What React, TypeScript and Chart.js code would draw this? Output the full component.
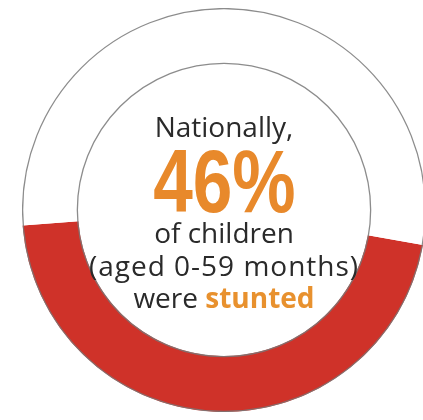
import React, { useEffect, useRef } from "react";
import { Chart, registerables } from "chart.js";

Chart.register(...registerables);

const categories = ["Stunted", "Not stunted"];
const values = [46, 54];
const colors = ["#CF3229", "#FFFFFF"];

const ringOutline = {
  id: "ringOutline",
  afterDatasetsDraw(chart: any) {
    const meta = chart.getDatasetMeta(0);
    const arc = meta.data[0];
    if (!arc) return;
    const { x, y, outerRadius, innerRadius } = arc.getProps(["x", "y", "outerRadius", "innerRadius"], true);
    const ctx = chart.ctx;
    ctx.save();
    ctx.strokeStyle = "rgba(120,120,120,0.85)";
    ctx.lineWidth = 1.3;
    ctx.beginPath();
    ctx.arc(x, y, outerRadius - 0.6, 0, Math.PI * 2);
    ctx.stroke();
    ctx.beginPath();
    ctx.arc(x, y, innerRadius + 0.6, 0, Math.PI * 2);
    ctx.stroke();
    ctx.restore();
  },
};

export default function App() {
  const ref = useRef<HTMLCanvasElement>(null);
  useEffect(() => {
    if (!ref.current) return;
    const chart = new Chart(ref.current, {
      type: "doughnut",
      data: {
        labels: categories,
        datasets: [
          {
            data: values,
            backgroundColor: colors,
            borderWidth: 0,
          },
        ],
      },
      options: {
        responsive: false,
        animation: false,
        cutout: "72.3%",
        rotation: 100,
        layout: { padding: 0 },
        plugins: { legend: { display: false }, tooltip: { enabled: false } },
      },
      plugins: [ringOutline],
    });
    return () => chart.destroy();
  }, []);

  const line: React.CSSProperties = {
    position: "absolute",
    left: 0,
    width: 448,
    textAlign: "center",
    fontFamily: "'Open Sans', sans-serif",
    fontSize: 28,
    lineHeight: "28px",
    color: "#2a2a2a",
    whiteSpace: "nowrap",
  };

  return (
    <div
      style={{
        position: "absolute",
        left: 0,
        top: 0,
        width: 423,
        height: 420,
        overflow: "hidden",
        background: "#fff",
      }}
    >
      <canvas
        ref={ref}
        width={404}
        height={404}
        style={{ position: "absolute", left: 22, top: 8, width: 404, height: 404 }}
      />
      <div style={{ ...line, top: 112 }}>Nationally,</div>
      <div
        style={{
          ...line,
          top: 137,
          fontFamily: "'Liberation Sans', Arial, sans-serif",
          fontWeight: 700,
          fontSize: 89,
          lineHeight: "89px",
          color: "#E8892B",
          transform: "scaleX(0.8)",
          transformOrigin: "226px 50%",
        }}
      >
        46%
      </div>
      <div style={{ ...line, top: 218 }}>of children</div>
      <div style={{ ...line, top: 251, letterSpacing: 1 }}>(aged 0-59 months)</div>
      <div style={{ ...line, top: 283 }}>
        were <span style={{ fontWeight: 700, color: "#E8912E" }}>stunted</span>
      </div>
    </div>
  );
}
